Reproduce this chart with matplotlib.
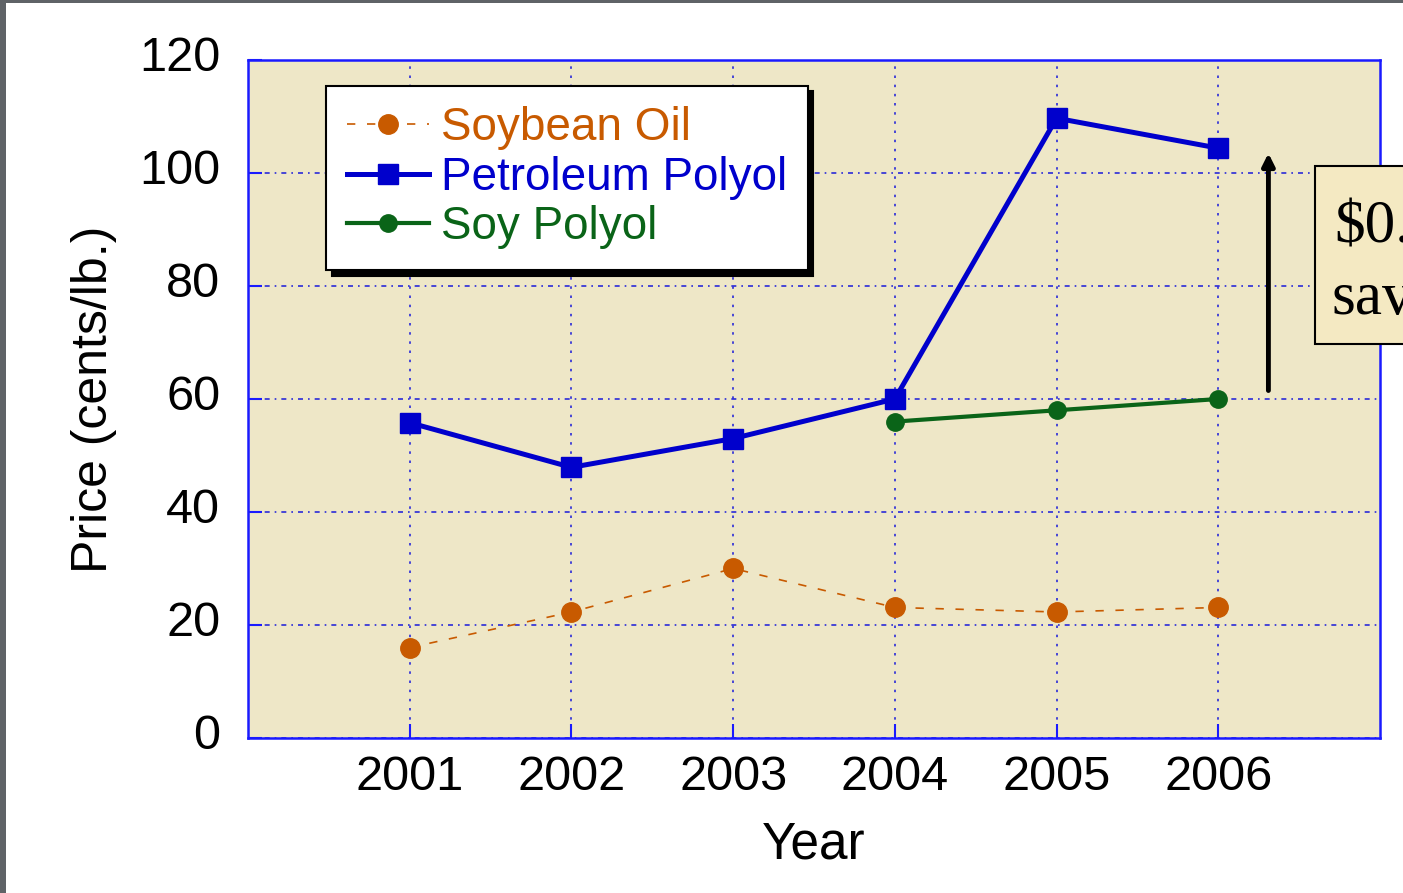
import matplotlib.pyplot as plt
from matplotlib.patches import Rectangle
from matplotlib.transforms import ScaledTranslation

plt.rcParams['font.family'] = ['Liberation Sans', 'DejaVu Sans']

years = [2001, 2002, 2003, 2004, 2005, 2006]
soybean_oil = [16, 22.3, 30, 23.1, 22.3, 23.1]
petroleum_polyol = [55.8, 47.9, 53, 60, 109.7, 104.4]
soy_years = [2004, 2005, 2006]
soy_polyol = [56, 58, 60]

blue = '#0000cc'
grid_blue = '#2a2ad8'
orange = '#c85a00'
green = '#0a6418'

fig = plt.figure(figsize=(14.03, 8.93), dpi=100)
fig.patch.set_facecolor('white')
ax = fig.add_axes([0.1768, 0.1736, 0.8068, 0.7592])
ax.set_facecolor('#eee7c7')

ax.plot(years, soybean_oil, color=orange, lw=1.2, ls=(0, (5, 7)), marker='o', ms=14,
        label='Soybean Oil', zorder=3)
ax.plot(years, petroleum_polyol, color=blue, lw=3.6, marker='s', ms=15,
        label='Petroleum Polyol', zorder=4)
ax.plot(soy_years, soy_polyol, color=green, lw=3.0, marker='o', ms=12.5,
        label='Soy Polyol', zorder=3)

ax.set_xlim(2000, 2007)
ax.set_ylim(0, 120)
ax.set_xticks(years)
ax.set_yticks(range(0, 121, 20))

ax.yaxis.grid(True, color=grid_blue, lw=1.2, ls=(0, (3, 3, 1, 3)))
ax.xaxis.grid(True, color=grid_blue, lw=1.2, ls=(0, (1.5, 4)))
ax.set_axisbelow(True)

for s in ax.spines.values():
    s.set_color('#1a1aff')
    s.set_linewidth(1.8)

ax.tick_params(axis='both', direction='in', color='#1a1aff', length=10, width=1.5,
               labelsize=35, labelcolor='black')
ax.tick_params(axis='y', pad=20)
ax.tick_params(axis='x', pad=12)
# y labels sit a little above their gridlines in the original
for lab in ax.get_yticklabels():
    lab.set_transform(lab.get_transform() + ScaledTranslation(0, 5 / 72, fig.dpi_scale_trans))

ax.set_xlabel('Year', fontsize=37, labelpad=15)
ax.set_ylabel('Price (cents/lb.)', fontsize=36, labelpad=16)

leg = ax.legend(loc='upper left', bbox_to_anchor=(0.069, 0.962), fontsize=33,
                handlelength=1.8, handletextpad=0.25, labelspacing=0.12,
                borderpad=0.45, borderaxespad=0, fancybox=False, framealpha=1,
                edgecolor='black',
                shadow={'ox': 4, 'oy': -4, 'color': 'black', 'alpha': 1})
leg.get_frame().set_linewidth(1.5)
for txt, c in zip(leg.get_texts(), [orange, blue, green]):
    txt.set_color(c)

ax.annotate('', xy=(2006.31, 103.5), xytext=(2006.31, 61.5),
            arrowprops=dict(arrowstyle='-|>', color='black', lw=3.5,
                            mutation_scale=18, shrinkA=0, shrinkB=0))

box = Rectangle((0.937, 0.615), 0.08, 0.199, transform=fig.transFigure,
                facecolor='#f4e9c2', edgecolor='black', lw=1.5, zorder=10)
fig.patches.append(box)
fig.text(0.951, 0.745, '$0.', fontsize=44, family='Liberation Serif',
         va='center', ha='left', zorder=11)
fig.text(0.949, 0.665, 'sav', fontsize=44, family='Liberation Serif',
         va='center', ha='left', zorder=11)

fig.patches.append(Rectangle((0, 0), 0.0045, 1, transform=fig.transFigure,
                             facecolor='#5f6367', edgecolor='none', zorder=12))
fig.patches.append(Rectangle((0, 0.9965), 1, 0.0035, transform=fig.transFigure,
                             facecolor='#5f6367', edgecolor='none', zorder=12))

fig.savefig('out.png', dpi=100)
